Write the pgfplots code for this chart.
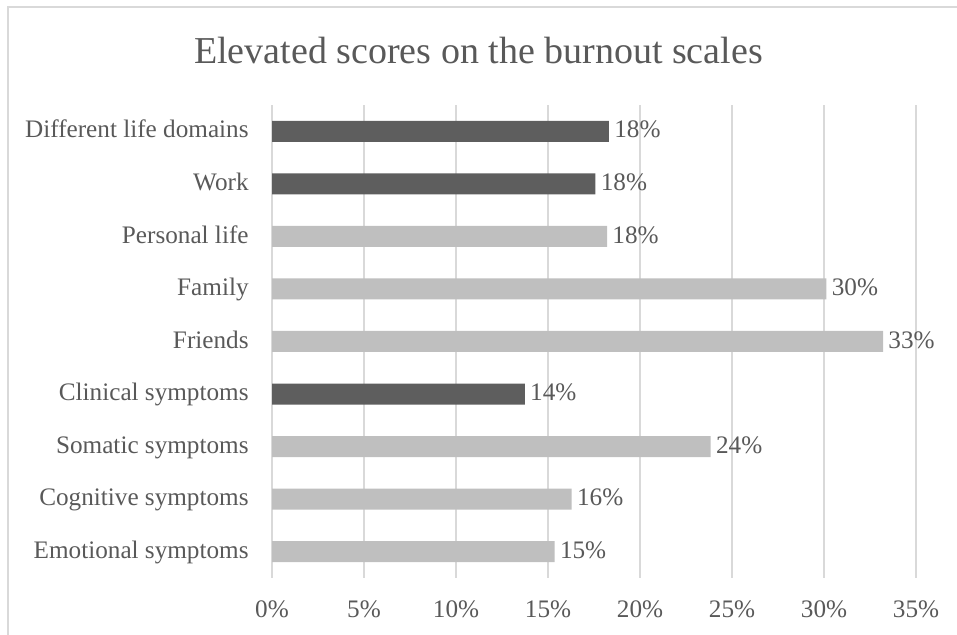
\documentclass[border=0pt]{standalone}
\usepackage{fontspec}
\setmainfont{Liberation Serif}
\usepackage{pgfplots}
\pgfplotsset{compat=1.18}
\definecolor{txt}{HTML}{595959}
\definecolor{darkbar}{HTML}{5E5E5E}
\definecolor{lightbar}{HTML}{BFBFBF}
\definecolor{gridc}{HTML}{D9D9D9}

\begin{document}
\begin{tikzpicture}
% picture sized like the 957x635 reference, 1px = 0.5pt
\useasboundingbox (0,0) rectangle (478.5pt,317.5pt);
% outer chart frame (cut off at right and bottom)
\draw[gridc, line width=1pt] (4pt,-3pt) -- (4pt,314pt) -- (481pt,314pt);
\node[anchor=base, font=\fontsize{19}{22}\selectfont, text=txt] at (239.25pt,285.5pt)
  {Elevated scores on the burnout scales};
\begin{axis}[
  at={(136pt,28.5pt)}, anchor=south west,
  scale only axis, width=322pt, height=236.5pt,
  xmin=0, xmax=35, ymin=0.5, ymax=9.5,
  xbar, bar width=10.5pt, bar shift=0pt,
  xtick={0,5,...,35},
  xticklabels={0\%,5\%,10\%,15\%,20\%,25\%,30\%,35\%},
  ytick={1,...,9},
  yticklabels={Emotional symptoms,Cognitive symptoms,Somatic symptoms,Clinical symptoms,Friends,Family,Personal life,Work,Different life domains},
  xmajorgrids, major grid style={gridc, line width=0.6pt},
  axis line style={draw=none}, major tick length=0pt,
  tick label style={font=\fontsize{12.6}{14}\selectfont, text=txt},
  xticklabel style={inner sep=0pt, anchor=north, yshift=-11pt},
  yticklabel style={inner sep=0pt, anchor=east, xshift=-11.5pt,
    text height=8.6pt, text depth=1.9pt},
  /pgf/number format/assume math mode=true,
  point meta=x,
  nodes near coords={\pgfmathprintnumber[fixed,precision=0]{\pgfplotspointmeta}\%},
  nodes near coords style={font=\fontsize{12.6}{14}\selectfont, text=txt,
    inner xsep=2.5pt, inner ysep=0pt, anchor=west, text height=8.6pt, text depth=1.9pt},
]
\addplot[fill=lightbar, draw=none] coordinates {
  (15.36,1) (16.29,2) (23.84,3) (33.21,5) (30.13,6) (18.21,7)
};
\addplot[fill=darkbar, draw=none] coordinates {
  (13.74,4) (17.58,8) (18.31,9)
};
\end{axis}
\end{tikzpicture}
\end{document}
